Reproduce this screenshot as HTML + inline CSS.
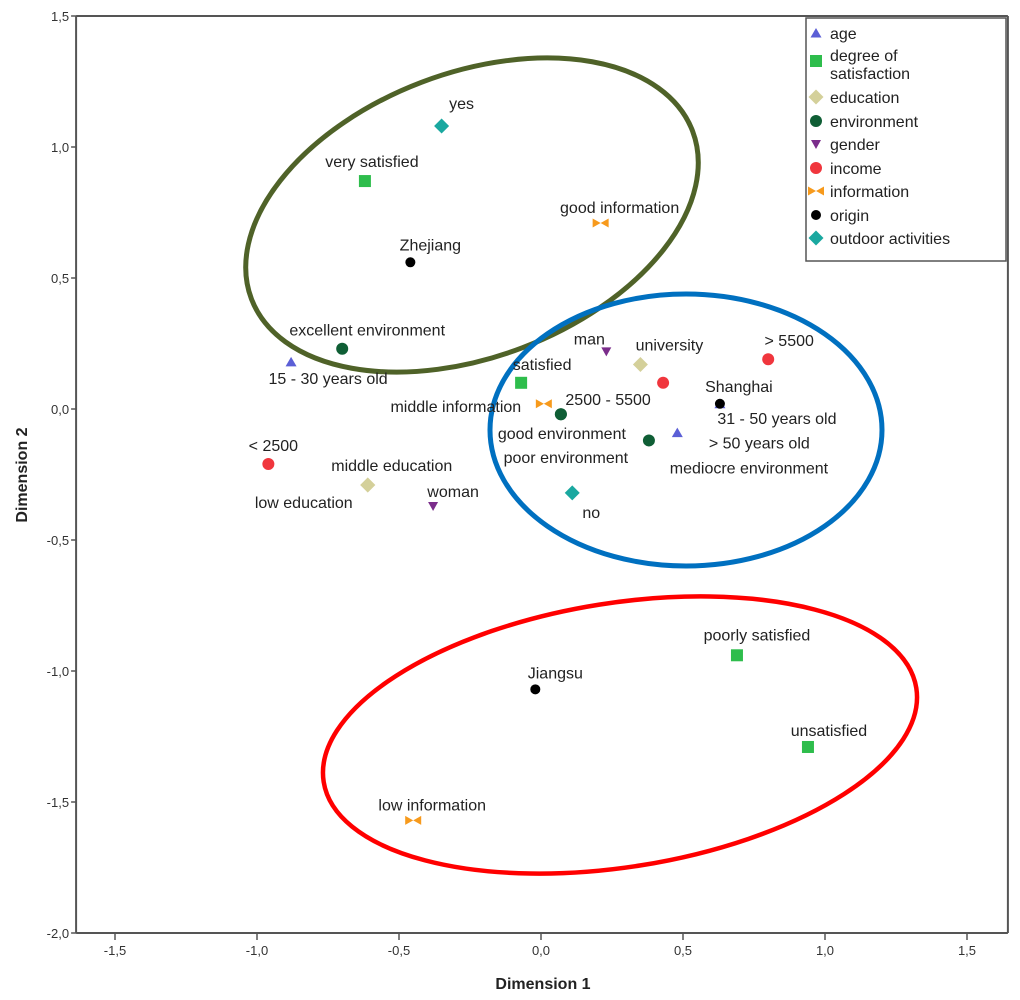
<!DOCTYPE html>
<html><head><meta charset="utf-8"><style>
html,body{margin:0;padding:0;background:#fff;}
svg{display:block;font-family:"Liberation Sans",Arial,sans-serif;}
</style></head><body>
<svg id="chart" width="1020" height="1000" viewBox="0 0 1020 1000" xmlns="http://www.w3.org/2000/svg">
<rect x="0" y="0" width="1020" height="1000" fill="#fff"/>
<g id="ellipses">
<ellipse cx="472" cy="215" rx="236" ry="142" transform="rotate(-20.85 472 215)" fill="none" stroke="#4f6228" stroke-width="5"/>
<ellipse cx="686" cy="430" rx="196" ry="136" fill="none" stroke="#0070c0" stroke-width="5"/>
<ellipse cx="620" cy="735" rx="300" ry="132" transform="rotate(-9 620 735)" fill="none" stroke="#ff0000" stroke-width="4.5"/>
</g>
<g id="axes"></g>
<g id="marks"></g>
<g id="labels"></g>
<g id="legend"></g>
<text x="543" y="989" text-anchor="middle" font-size="16" font-weight="bold" fill="#222">Dimension 1</text>
<text x="0" y="0" transform="translate(27,475) rotate(-90)" text-anchor="middle" font-size="16" font-weight="bold" fill="#222">Dimension 2</text>
</svg>
<script>
const xTicks = [-1.5, -1.0, -0.5, 0.0, 0.5, 1.0, 1.5];
const yTicks = [1.5, 1.0, 0.5, 0.0, -0.5, -1.0, -1.5, -2.0];
const xTickLabels = ["-1,5","-1,0","-0,5","0,0","0,5","1,0","1,5"];
const yTickLabels = ["1,5","1,0","0,5","0,0","-0,5","-1,0","-1,5","-2,0"];
const categories = ["age","degree of satisfaction","education","environment","gender","income","information","origin","outdoor activities"];
const pointLabels = ["31 - 50 years old","15 - 30 years old","> 50 years old","very satisfied","satisfied","poorly satisfied","unsatisfied","university","middle education","low education","excellent environment","poor environment","good environment","mediocre environment","man","woman","> 5500","2500 - 5500","< 2500","good information","middle information","low information","Zhejiang","Shanghai","Jiangsu","yes","no"];
const pointCats = [0,0,0,1,1,1,1,2,2,2,3,3,3,3,4,4,5,5,5,6,6,6,7,7,7,8,8];
const dim1 = [0.63,-0.88,0.48,-0.62,-0.07,0.69,0.94,0.35,-0.61,-0.61,-0.70,0.07,0.07,0.38,0.23,-0.38,0.80,0.43,-0.96,0.21,0.01,-0.45,-0.46,0.63,-0.02,-0.35,0.11];
const dim2 = [0.02,0.18,-0.09,0.87,0.10,-0.94,-1.29,0.17,-0.29,-0.29,0.23,-0.02,-0.02,-0.12,0.22,-0.37,0.19,0.10,-0.21,0.71,0.02,-1.57,0.56,0.02,-1.07,1.08,-0.32];
// label offsets (pixels, styling only)
const labelDx = [57,37,82,7,21,20,21,29,24,-64,25,5,1,100,-17,20,21,-55,5,19,-88,19,20,19,20,20,19];
const labelDy = [14,16,10,-20,-19,-21,-17,-20,-20,17,-19,43,19,27,-13,-15,-19,16,-19,-16,2,-16,-18,-18,-17,-23,19];

const colors = ["#5b5fd6","#2ebd4c","#d4d09a","#0f5e35","#7b2d8b","#f0363d","#f79a1c","#000000","#1aa8a0"];
const shapes = ["tri","sq","dia","circ","itri","circ","bow","dot","dia"];
const X = v => 541 + 284*v;
const Y = v => 16 + (1.5 - v)*262;
const NS = "http://www.w3.org/2000/svg";
function mk(tag, attrs, parent){const e=document.createElementNS(NS,tag);for(const k in attrs)e.setAttribute(k,attrs[k]);parent.appendChild(e);return e;}
function marker(shape,color,cx,cy,parent){
  let e;
  if(shape==="tri") e=mk("polygon",{points:`${cx},${cy-5} ${cx-5.5},${cy+4.5} ${cx+5.5},${cy+4.5}`,fill:color},parent);
  else if(shape==="itri") e=mk("polygon",{points:`${cx-5},${cy-4} ${cx+5},${cy-4} ${cx},${cy+5}`,fill:color},parent);
  else if(shape==="sq") e=mk("rect",{x:cx-6,y:cy-6,width:12,height:12,fill:color},parent);
  else if(shape==="dia") e=mk("polygon",{points:`${cx},${cy-7.5} ${cx+7.5},${cy} ${cx},${cy+7.5} ${cx-7.5},${cy}`,fill:color},parent);
  else if(shape==="circ") e=mk("circle",{cx:cx,cy:cy,r:6,fill:color},parent);
  else if(shape==="dot") e=mk("circle",{cx:cx,cy:cy,r:5,fill:color},parent);
  else e=mk("path",{d:`M${cx-8} ${cy-4.5} L${cx} ${cy} L${cx-8} ${cy+4.5} Z M${cx+8} ${cy-4.5} L${cx} ${cy} L${cx+8} ${cy+4.5} Z`,fill:color},parent);
  return e;
}
const axes=document.getElementById("axes");
const x0=X(-1.637), x1=X(1.644), yT=Y(1.5), yB=Y(-2.0);
let ln;
ln=mk("line",{x1:x0,y1:yT,x2:x1,y2:yT,stroke:"#555","stroke-width":2},axes);


ln=mk("line",{x1:x1,y1:yT,x2:x1,y2:yB,stroke:"#555","stroke-width":2},axes);


ln=mk("line",{x1:x0,y1:yT,x2:x0,y2:yB,stroke:"#555","stroke-width":2},axes);


ln=mk("line",{x1:x0,y1:yB,x2:x1,y2:yB,stroke:"#555","stroke-width":2},axes);


xTicks.forEach((v,i)=>{
  const t=mk("line",{x1:X(v),y1:yB,x2:X(v),y2:yB+7,stroke:"#555","stroke-width":1.5},axes);
  
  
  const l=mk("text",{x:X(v),y:yB+22,"text-anchor":"middle","font-size":13,fill:"#333"},axes);
  l.textContent=xTickLabels[i];
  
  
});
yTicks.forEach((v,i)=>{
  const t=mk("line",{x1:x0-5,y1:Y(v),x2:x0,y2:Y(v),stroke:"#555","stroke-width":1.5},axes);
  
  
  const l=mk("text",{x:x0-7,y:Y(v)+5,"text-anchor":"end","font-size":13,fill:"#333"},axes);
  l.textContent=yTickLabels[i];
  
  
});
const marks=document.getElementById("marks"), labels=document.getElementById("labels");
pointLabels.forEach((lab,i)=>{
  const c=pointCats[i], cx=X(dim1[i]), cy=Y(dim2[i]);
  const m=marker(shapes[c],colors[c],cx,cy,marks);
  
  
  const t=mk("text",{x:cx+labelDx[i],y:cy+labelDy[i]+6,"text-anchor":"middle","font-size":16,fill:"#222"},labels);
  t.textContent=lab;
  
  
});
const lg=document.getElementById("legend");
const box=mk("rect",{x:806,y:18,width:200,height:243,fill:"#fff",stroke:"#555","stroke-width":1.5},lg);


const legY=[33,63,97,121,144,168,191,215,238];
categories.forEach((c,i)=>{
  const m=marker(shapes[i],colors[i],816,legY[i]-(i===1?2:0),lg);
  
  
  const t=mk("text",{x:830,y:legY[i]+6,"font-size":16,fill:"#222"},lg);
  if(i===1){
    t.setAttribute("y",legY[i]-2);
    const a=mk("tspan",{x:830},t);a.textContent="degree of";
    const b=mk("tspan",{x:830,dy:18},t);b.textContent="satisfaction";
  } else t.textContent=c;
  
  
});
</script>
</body></html>
